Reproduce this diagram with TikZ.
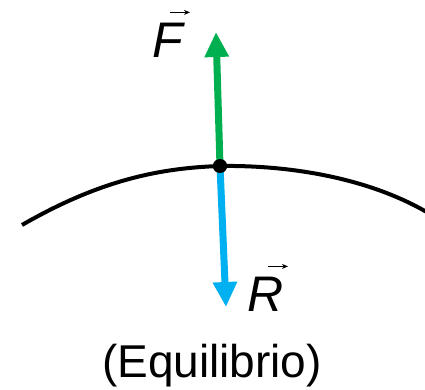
\documentclass[tikz,border=0pt]{standalone}
\usepackage{fontspec}
\setmainfont{Liberation Sans}
\usetikzlibrary{arrows.meta}
\definecolor{fgreen}{HTML}{00B050}
\definecolor{rblue}{HTML}{00B0F0}
\tikzset{
  force/.style={line width=7pt, -{Triangle[width=23pt,length=25pt]}},
  vlabel/.style={font=\fontsize{50}{50}\selectfont\itshape, inner sep=0pt, anchor=base},
  smallvec/.style={line width=1.3pt, -{Stealth[width=5pt,length=6pt]}}
}
\begin{document}
\begin{tikzpicture}[x=1pt,y=-1pt]
\useasboundingbox (0,0) rectangle (425,389);
% surface
\draw[line width=4pt] (22,225) .. controls (100,180) and (160,168) .. (220,166)
  .. controls (290,165) and (370,178) .. (430,214);
\coordinate (Ftip) at (216,32);
\coordinate (Rtip) at (226,307);
\node[circle, fill=black, inner sep=0pt, minimum size=14pt] (P) at (220,166) {};
\draw[force, draw=fgreen, fill=fgreen] (P.center) -- (Ftip);
\draw[force, draw=rblue, fill=rblue] (P.center) -- (Rtip);
\node[circle, fill=black, inner sep=0pt, minimum size=14pt] at (P) {};
% labels
\node[vlabel] (F) at (168,57) {F};
\draw[smallvec] ([xshift=2pt,yshift=10pt]F.north) -- ([xshift=22pt,yshift=10pt]F.north);
\node[vlabel] (R) at (266,311) {R};
\draw[smallvec] ([xshift=2pt,yshift=10pt]R.north) -- ([xshift=22pt,yshift=10pt]R.north);
\node[font=\fontsize{46}{46}\selectfont, inner sep=0pt, anchor=base] (E) at (212,377) {(Equilibrio)};
\end{tikzpicture}
\end{document}
